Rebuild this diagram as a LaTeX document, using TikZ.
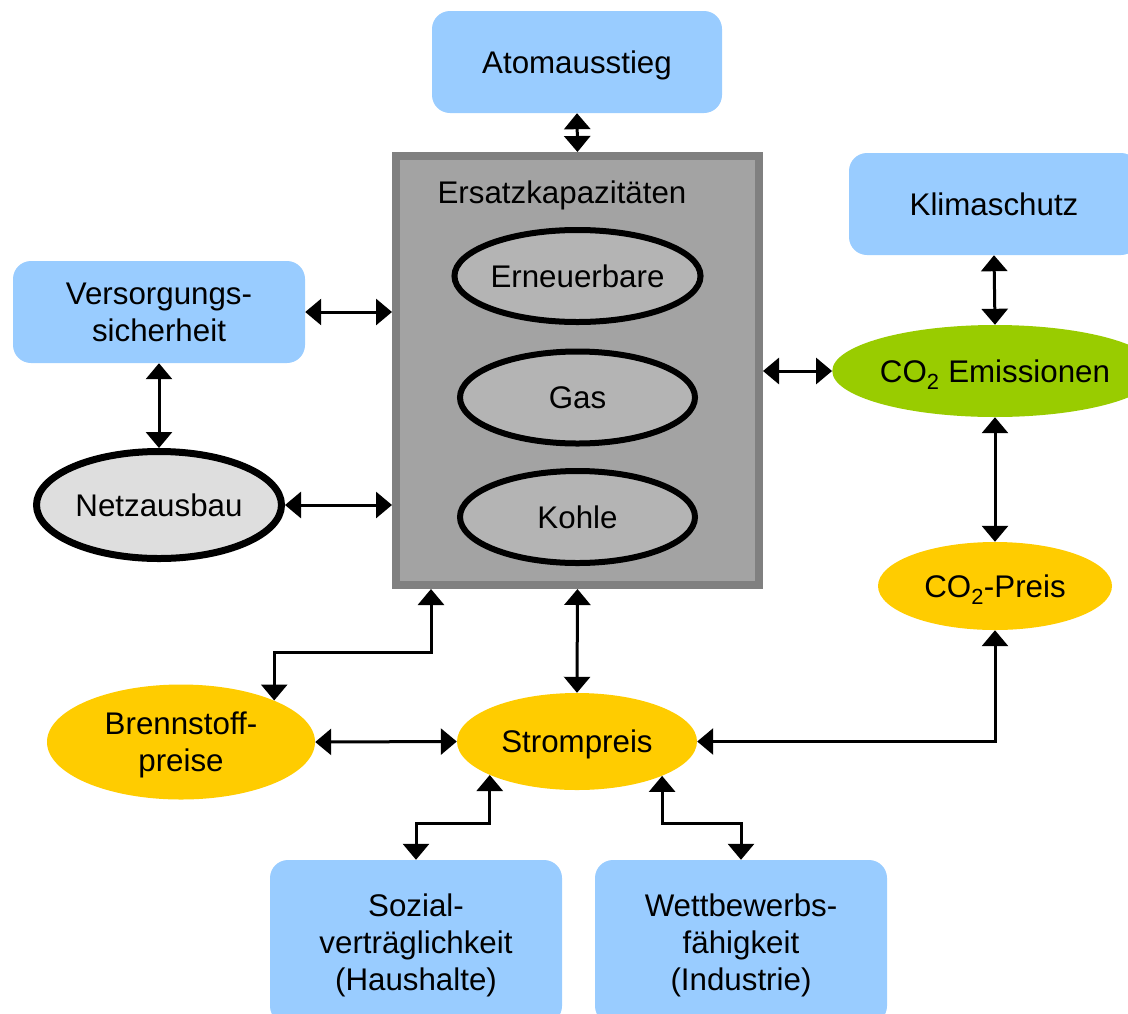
\documentclass[tikz,border=0pt]{standalone}
\usepackage{fontspec}
\setmainfont{Liberation Sans}
\usetikzlibrary{shapes.geometric,arrows.meta}
\definecolor{boxblue}{HTML}{99CCFF}
\definecolor{ovyellow}{HTML}{FFCC00}
\definecolor{ovgreen}{HTML}{99CC00}
\definecolor{coreedge}{HTML}{808080}
\definecolor{corefill}{HTML}{A3A3A3}
\definecolor{innerfill}{HTML}{B4B4B4}
\definecolor{netzfill}{HTML}{DEDEDE}
\begin{document}
\begin{tikzpicture}[x=1pt,y=-1pt,
  every node/.style={font=\fontsize{31.3}{37}\selectfont, align=center, inner sep=0pt, text depth=0pt},
  bluebox/.style={fill=boxblue, rounded corners=18pt, minimum width=292pt, minimum height=102pt},
  yellowoval/.style={ellipse, fill=ovyellow},
  inneroval/.style={ellipse, draw=black, line width=6pt, fill=innerfill, minimum width=235pt, minimum height=92pt},
  biarrow/.style={line width=3pt, {Triangle[length=16pt,width=26pt]}-{Triangle[length=16pt,width=26pt]}}
]
\useasboundingbox (0,0) rectangle (1128,1013);

% central block
\node[draw=coreedge, line width=8pt, fill=corefill, minimum width=363pt, minimum height=429pt] (central) at (577.5,370.5) {};
\node (ersatz) at (562,192) {Ersatzkapazit\"aten};
\node[inneroval] (ern) at (577.5,276) {Erneuerbare};
\node[inneroval] (gas) at (577.5,397.5) {Gas};
\node[inneroval] (kohle) at (577.5,517) {Kohle};

% boxes
\node[bluebox, minimum width=290pt] (atom) at (577,62) {Atomausstieg};
\node[bluebox, minimum width=290pt] (klima) at (994,204) {Klimaschutz};
\node[bluebox] (vers) at (159,312) {Versorgungs-\\sicherheit};
\node[bluebox, minimum height=164pt] (soz) at (416,942) {Sozial-\\vertr\"aglichkeit\\(Haushalte)};
\node[bluebox, minimum height=164pt] (wett) at (741,942) {Wettbewerbs-\\f\"ahigkeit\\(Industrie)};

% ovals
\node[ellipse, draw=black, line width=7pt, fill=netzfill, minimum width=245pt, minimum height=107pt] (netz) at (159,505) {Netzausbau};
\node[ellipse, fill=ovgreen, minimum width=296pt, minimum height=92pt] (co2e) at (995,371) {CO\textsubscript{2} Emissionen};
\node[yellowoval, minimum width=234pt, minimum height=88pt] (co2p) at (995,586) {CO\textsubscript{2}-Preis};
\node[yellowoval, minimum width=268pt, minimum height=115pt] (brenn) at (181,742) {Brennstoff-\\preise};
\node[yellowoval, minimum width=240pt, minimum height=97pt] (strom) at (577,741.5) {Strompreis};

% connectors
\draw[biarrow] (atom.south) -- (central.north);
\draw[biarrow] (vers.east) -- (central.west |- vers.east);
\draw[biarrow] (vers.south) -- (vers.south |- netz.north);
\draw[biarrow] (netz.east) -- (central.west |- netz.east);
\draw[biarrow] (central.east |- co2e.west) -- (co2e.west);
\draw[biarrow] (klima.south) -- (co2e.north);
\draw[biarrow] (co2e.south) -- (co2p.north);
\draw[biarrow] ([xshift=-146.5pt]central.south) -- ++(0,63) -| (brenn.24);
\draw[biarrow] (central.south) -- (strom.north);
\draw[biarrow] (brenn.east) -- (strom.west);
\draw[biarrow] (strom.east) -| (co2p.south);
\draw[biarrow] (strom.201.5) -- ++(0,48) -| (soz.north);
\draw[biarrow] (strom.338.5) -- ++(0,48) -| (wett.north);
\end{tikzpicture}
\end{document}
